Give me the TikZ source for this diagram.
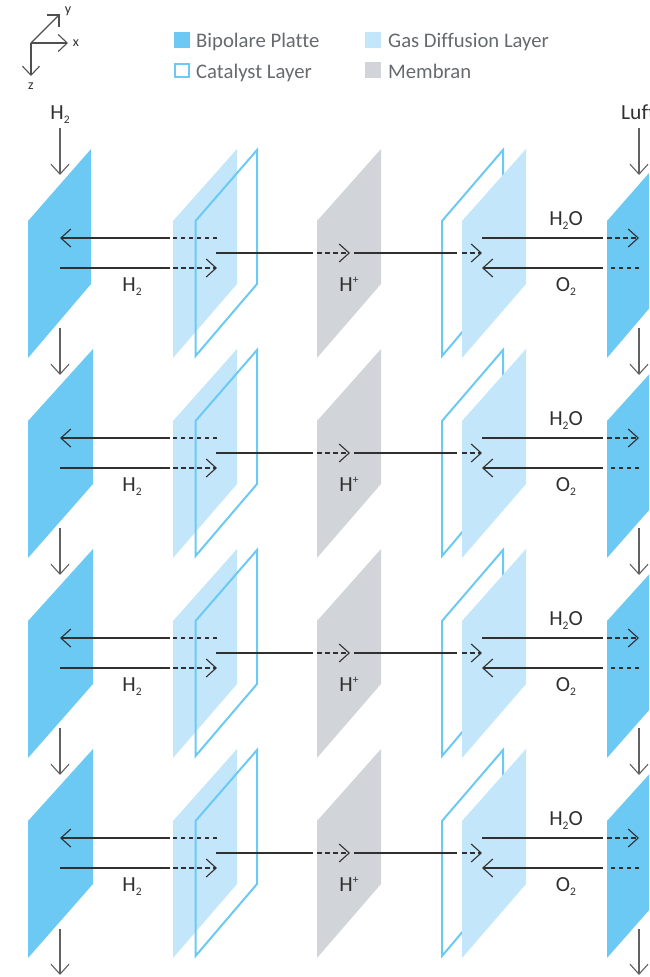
\documentclass[tikz,border=0pt]{standalone}
\usepackage{fontspec}
\setmainfont[Ligatures=NoCommon]{Carlito}
\usetikzlibrary{arrows.meta}
\definecolor{bipolar}{HTML}{6CC9F3}
\definecolor{gdl}{HTML}{C3E6FB}
\definecolor{membran}{HTML}{D1D5D9}
\definecolor{ink}{HTML}{303030}
\definecolor{legendtxt}{HTML}{666A6E}
\newcommand{\chemsub}[1]{\raisebox{-0.45ex}{\fontsize{11.5}{11.5}\selectfont #1}}
\tikzset{
  x=1pt,y=-1pt,
  barb/.style={-{Straight Barb[length=10pt,width=18pt,line width=1.1pt]}},
  flowline/.style={draw=ink,line width=1.1pt},
  flowdash/.style={draw=ink,line width=1.1pt,dash pattern=on 4.5pt off 3.5pt},
  feed/.style={draw=black!62,line width=1.1pt,barb},
  axis/.style={draw=ink!85,line width=1.1pt,-{Straight Barb[length=9pt,width=17pt,line width=1.1pt]}},
  catalyst/.style={draw=bipolar,line width=2pt,line join=miter,fill=none},
  lbl/.style={text=ink,font=\fontsize{21.5}{21.5}\selectfont,inner sep=0pt,anchor=base},
  leg/.style={text=legendtxt,font=\fontsize{20.7}{20.7}\selectfont,inner sep=0pt,anchor=base west},
  axlbl/.style={text=ink,font=\fontsize{14}{14}\selectfont,inner sep=0pt},
}
\begin{document}
\begin{tikzpicture}
\useasboundingbox (0,0) rectangle (649,977);
\clip (0,0) rectangle (649,977);
% axes
\coordinate (o) at (31,43);
\coordinate (ax) at (68,43);
\coordinate (ay) at (59,15);
\coordinate (az) at (31,76);
\draw[axis] (o) -- (ax);
\draw[draw=ink!85,line width=1.1pt] (o) -- (ay);
\coordinate (ay1) at (47,15);
\coordinate (ay2) at (59,27);
\draw[draw=ink!85,line width=1.1pt] (ay1) -- (ay) -- (ay2);
\draw[axis] (o) -- (az);
\node[axlbl] (lx) at (76,43) {x};
\node[axlbl] (ly) at (68,11) {y};
\node[axlbl] (lz) at (31,86) {z};
% legend
\fill[bipolar] (174,32) rectangle (190,48);
\draw[catalyst] (175,63.5) rectangle (189,77);
\fill[gdl] (365,32) rectangle (381,48);
\fill[membran] (365,62) rectangle (381,78);
\node[leg] (t1) at (196,47) {Bipolare Platte};
\node[leg] (t2) at (196,78) {Catalyst Layer};
\node[leg] (t3) at (388,47) {Gas Diffusion Layer};
\node[leg] (t4) at (388,78) {Membran};
% feed labels
\node[lbl] (h2top) at (60,119) {H\chemsub{2}};
\node[lbl,anchor=base west] (luft) at (621,119) {Luft};
% rows
\foreach \r/\dy/\w in {1/0/63,2/200/65,3/400/65,4/600/65}{
\begin{scope}[shift={(0,\dy)}]
  % left plates
  \fill[bipolar] (28,221) -- (28+\w,149) -- (28+\w,284) -- (28,358) -- cycle;
  \fill[gdl] (173,221) -- (237,149) -- (237,284) -- (173,358) -- cycle;
  \draw[catalyst] (195.5,221) -- (257,150) -- (257,284) -- (195.5,356) -- cycle;
  % membrane
  \fill[membran] (317,221) -- (381,149) -- (381,284) -- (317,358) -- cycle;
  % right plates
  \draw[catalyst] (442,221) -- (503,150) -- (503,284) -- (442,356) -- cycle;
  \fill[gdl] (462,221) -- (526,149) -- (526,284) -- (462,358) -- cycle;
  \fill[bipolar] (607,221) -- (607+\w,149) -- (607+\w,284) -- (607,358) -- cycle;
  % connector points
  \coordinate (la\r) at (60,238);  \coordinate (lb\r) at (170,238); \coordinate (lc\r) at (173,238); \coordinate (ld\r) at (217,238);
  \coordinate (ma\r) at (60,268);  \coordinate (mb\r) at (170,268); \coordinate (mc\r) at (173,268); \coordinate (md\r) at (217,268);
  \coordinate (pa\r) at (216,253); \coordinate (pb\r) at (313,253); \coordinate (pc\r) at (317,253); \coordinate (pd\r) at (350,253);
  \coordinate (pe\r) at (354,253); \coordinate (pf\r) at (457,253); \coordinate (pg\r) at (462,253); \coordinate (ph\r) at (482,253);
  \coordinate (ra\r) at (482,238); \coordinate (rb\r) at (603,238); \coordinate (rc\r) at (607,238); \coordinate (rd\r) at (639,238);
  \coordinate (sa\r) at (482,268); \coordinate (sb\r) at (603,268); \coordinate (sc\r) at (607,268); \coordinate (sd\r) at (639,268);
  % connectors
  \draw[flowline,barb] (lb\r) -- (la\r);
  \draw[flowdash] (ld\r) -- (lc\r);
  \draw[flowline] (ma\r) -- (mb\r);
  \draw[flowdash,barb] (mc\r) -- (md\r);
  \draw[flowline] (pa\r) -- (pb\r);
  \draw[flowdash,barb] (pc\r) -- (pd\r);
  \draw[flowline] (pe\r) -- (pf\r);
  \draw[flowdash,barb] (pg\r) -- (ph\r);
  \draw[flowline] (ra\r) -- (rb\r);
  \draw[flowdash,barb] (rc\r) -- (rd\r);
  \draw[flowline,barb] (sb\r) -- (sa\r);
  \draw[flowdash] (sd\r) -- (sc\r);
  % labels
  \node[lbl] (nh\r) at (132,291) {H\chemsub{2}};
  \node[lbl] (np\r) at (349,291) {H\raisebox{0.75ex}{\fontsize{11.5}{11.5}\selectfont +}};
  \node[lbl] (nw\r) at (566,225) {H\chemsub{2}O};
  \node[lbl] (no\r) at (566,291) {O\chemsub{2}};
\end{scope}
}
% vertical feeds
\foreach \k/\ys/\ye in {0/128/175,1/328/375,2/528/575,3/728/775,4/929/975}{
  \coordinate (fa\k) at (60,\ys); \coordinate (fb\k) at (60,\ye);
  \coordinate (ga\k) at (639,\ys); \coordinate (gb\k) at (639,\ye);
  \draw[feed] (fa\k) -- (fb\k);
  \draw[feed] (ga\k) -- (gb\k);
}
\end{tikzpicture}
\end{document}
